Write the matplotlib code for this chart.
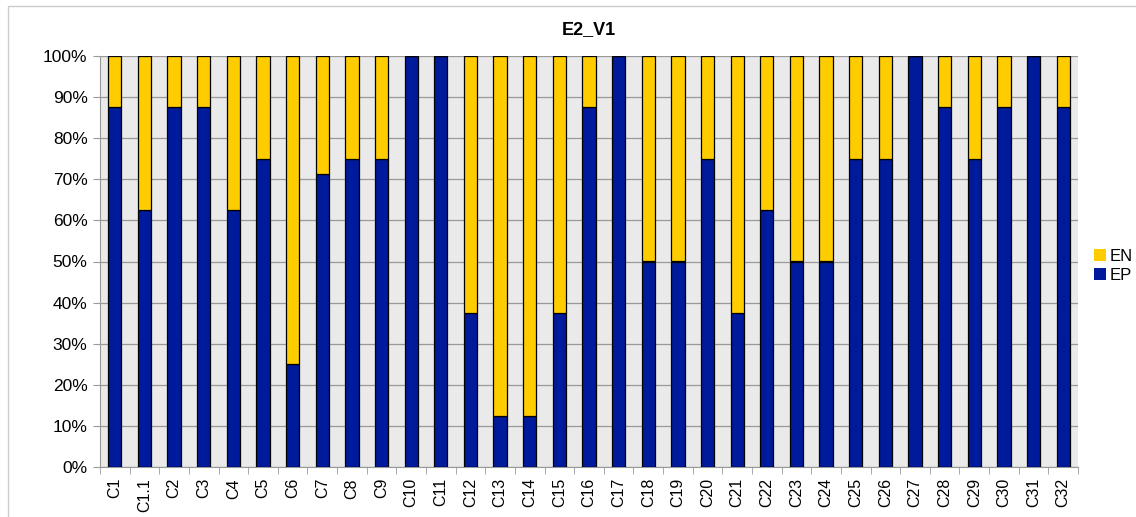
import matplotlib
matplotlib.use("Agg")
import matplotlib.pyplot as plt
from matplotlib.patches import Rectangle
from matplotlib.ticker import FixedLocator, FuncFormatter

categories = ["C1", "C1.1", "C2", "C3", "C4", "C5", "C6", "C7", "C8", "C9", "C10",
              "C11", "C12", "C13", "C14", "C15", "C16", "C17", "C18", "C19", "C20",
              "C21", "C22", "C23", "C24", "C25", "C26", "C27", "C28", "C29", "C30",
              "C31", "C32"]
ep = [87.5, 62.5, 87.5, 87.5, 62.5, 75, 25, 71.4, 75, 75, 100,
      100, 37.5, 12.5, 12.5, 37.5, 87.5, 100, 50, 50, 75,
      37.5, 62.5, 50, 50, 75, 75, 100, 87.5, 75, 87.5,
      100, 87.5]
en = [100 - v for v in ep]

plt.rcParams['font.family'] = ['Liberation Sans', 'DejaVu Sans']

W, H = 1136, 517
fig = plt.figure(figsize=(W / 100, H / 100), dpi=100)
fig.patch.set_facecolor("white")
ax = fig.add_axes([100 / W, 1 - 467 / H, (1078 - 100) / W, (467 - 56) / H])
ax.set_facecolor("#EAEAEA")

x = list(range(len(categories)))
bw = 0.45
blue = "#001A9C"
yellow = "#FFCC00"
ax.bar(x, ep, width=bw, color=blue, edgecolor="black", linewidth=0.9, label="EP", zorder=3)
ax.bar(x, en, width=bw, bottom=ep, color=yellow, edgecolor="black", linewidth=0.9, label="EN", zorder=3)

ax.set_xlim(-0.5, len(categories) - 0.5)
ax.set_ylim(0, 100)
ax.set_yticks(range(0, 101, 10))
ax.yaxis.set_major_formatter(FuncFormatter(lambda v, p: f"{int(v)}%"))
ax.yaxis.grid(True, color="#999999", linewidth=0.9, zorder=0)
ax.set_xticks(x)
ax.set_xticklabels(categories, rotation=90, fontsize=11.5)
ax.xaxis.set_minor_locator(FixedLocator([i - 0.5 for i in range(len(categories) + 1)]))
ax.tick_params(axis='x', which='major', length=0, pad=8)
ax.tick_params(axis='x', which='minor', length=5, color="#999999")
ax.tick_params(axis='y', length=5, color="#999999", labelsize=12.5, pad=4)
for s in ['top', 'right']:
    ax.spines[s].set_visible(False)
for s in ['left', 'bottom']:
    ax.spines[s].set_color("#999999")

ax.set_title("E2_V1", fontsize=13, fontweight="bold", pad=16)

handles, labels = ax.get_legend_handles_labels()
leg = fig.legend(handles[::-1], labels[::-1], loc="center left",
                 bbox_to_anchor=(1094 / W, 1 - 266 / H), frameon=False,
                 fontsize=12, handlelength=0.7, handleheight=0.7,
                 handletextpad=0.25, labelspacing=0.25, borderaxespad=0,
                 borderpad=0)
for h in leg.legend_handles:
    h.set_edgecolor("none")

top = 1 - 5.5 / H
fig.patches.append(Rectangle((8 / W, -0.1), 1.2, top + 0.1,
                             transform=fig.transFigure, fill=False,
                             edgecolor="#CCCCCC", linewidth=1))

fig.savefig("out.png", dpi=100)
